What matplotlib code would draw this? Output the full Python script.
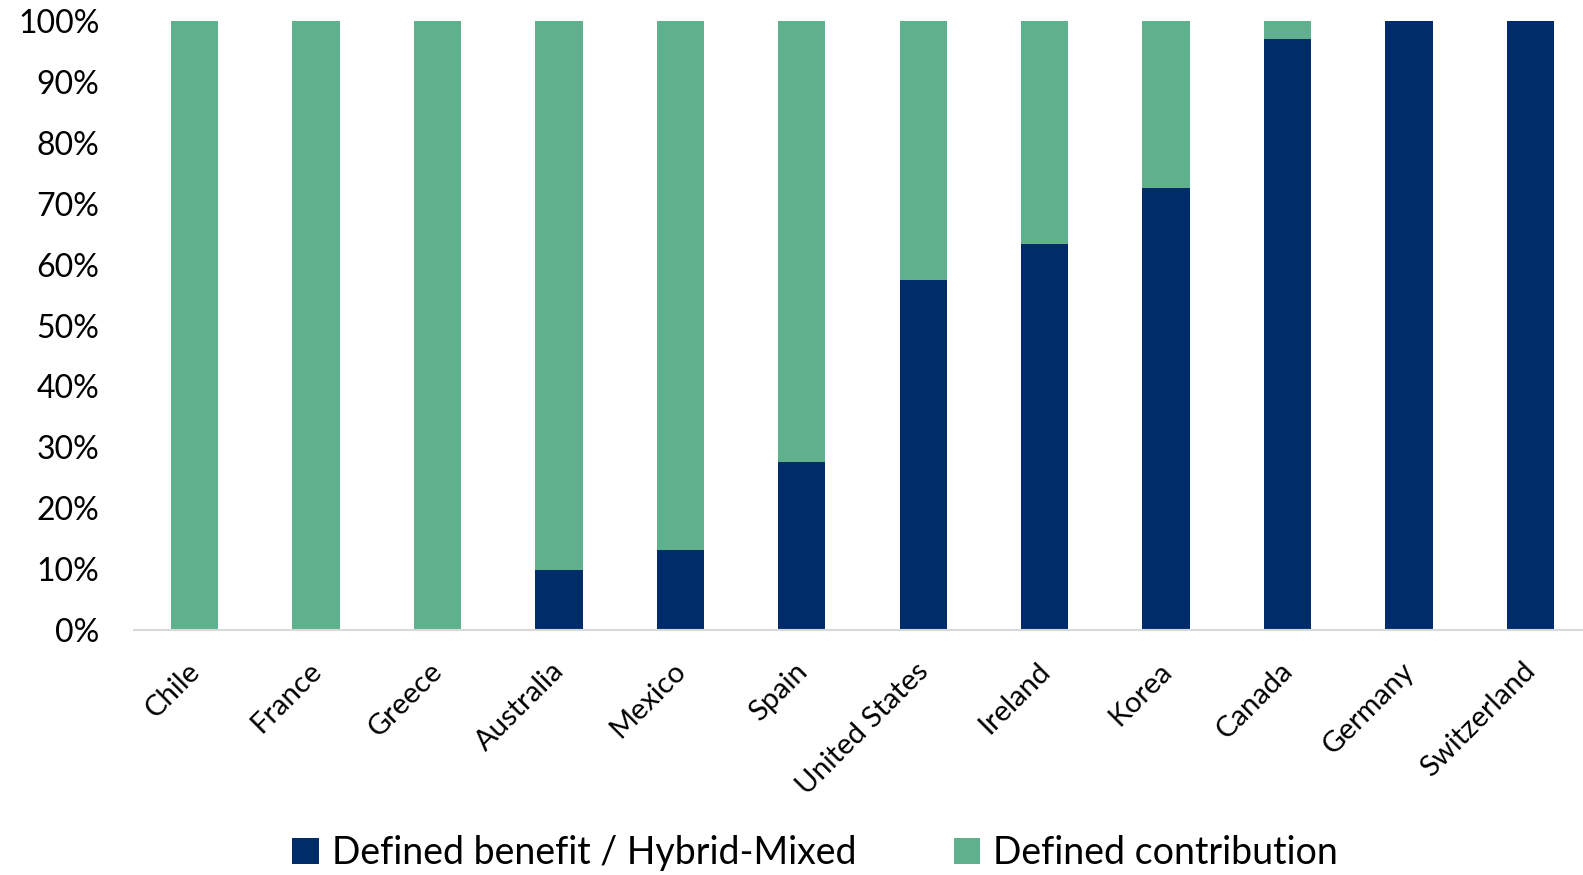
import matplotlib
matplotlib.use('Agg')
import matplotlib.pyplot as plt
from matplotlib.ticker import PercentFormatter
import matplotlib.transforms as mtransforms
import numpy as np

## data
countries = ['Chile', 'France', 'Greece', 'Australia', 'Mexico', 'Spain',
             'United States', 'Ireland', 'Korea', 'Canada', 'Germany', 'Switzerland']
db_hybrid = [0, 0, 0, 9.8, 13.2, 27.6, 57.4, 63.4, 72.6, 97.0, 100, 100]
dc = [100 - v for v in db_hybrid]

navy = '#002D6A'
green = '#5EB18C'

plt.rcParams['font.family'] = ['Lato', 'DejaVu Sans']

fig = plt.figure(figsize=(15.83, 8.75), dpi=100)
ax = fig.add_axes([134/1583, 1 - 630/875, (1591 - 134)/1583, (630 - 21)/875])

x = np.arange(len(countries))
ax.bar(x, db_hybrid, width=0.39, color=navy, label='Defined benefit / Hybrid-Mixed')
ax.bar(x, dc, width=0.39, bottom=db_hybrid, color=green, label='Defined contribution')

ax.set_xlim(-0.5, len(countries) - 0.5)
ax.set_ylim(0, 100)
ax.set_yticks(range(0, 101, 10))
ax.yaxis.set_major_formatter(PercentFormatter(decimals=0))
ax.tick_params(axis='y', length=0, labelsize=23, pad=25)
ax.set_xticks(x)
ax.set_xticklabels(countries, rotation=45, ha='right', rotation_mode='anchor', fontsize=21)
ax.tick_params(axis='x', length=0, pad=20)
## nudge the rotated labels a bit to the left
shift = mtransforms.ScaledTranslation(-8/100, 0, fig.dpi_scale_trans)
for lbl in ax.get_xticklabels():
    lbl.set_transform(lbl.get_transform() + shift)

for s in ['top', 'right', 'left']:
    ax.spines[s].set_visible(False)
ax.spines['bottom'].set_color('#D9D9D9')
ax.spines['bottom'].set_linewidth(1.5)

fig.legend(loc='center', bbox_to_anchor=(0.515, 1 - 853/875), ncol=2, frameon=False,
           fontsize=27, handlelength=0.7, handleheight=0.7, columnspacing=2.6, handletextpad=0.35)

plt.savefig('out.png', dpi=100)
